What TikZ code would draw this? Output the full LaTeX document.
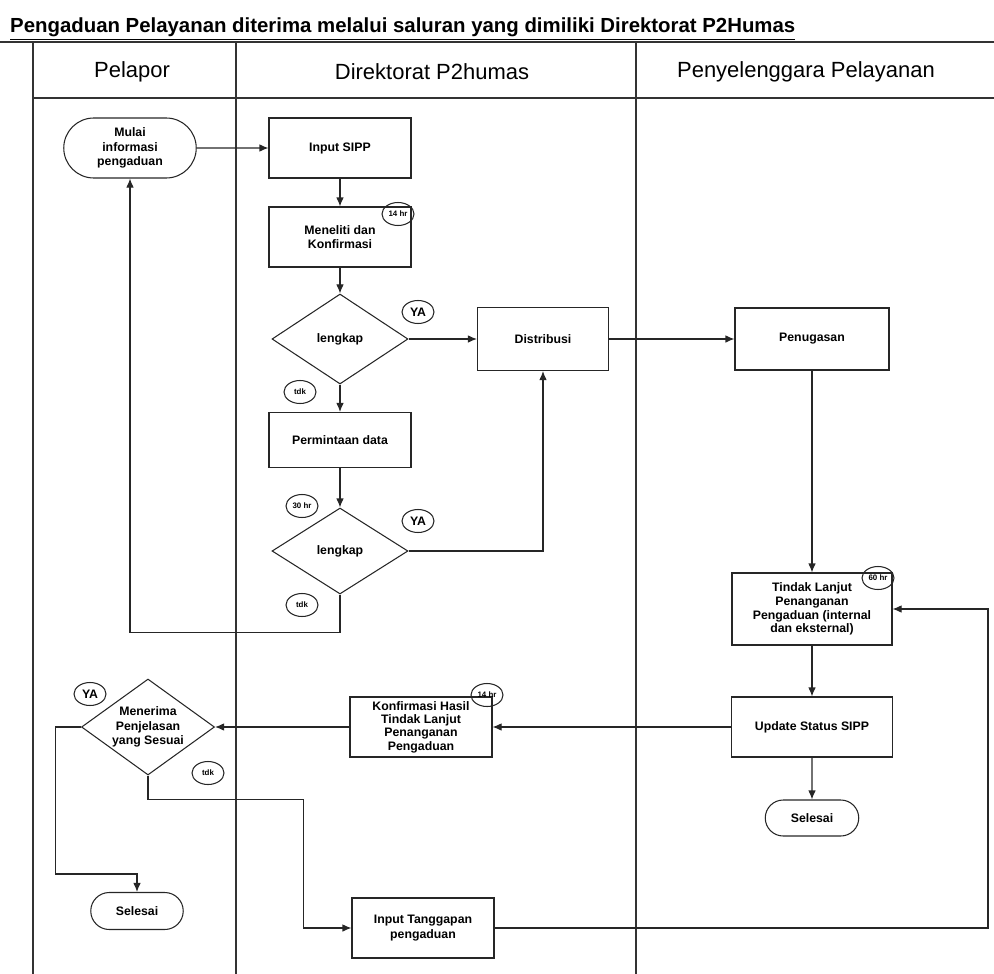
\documentclass[tikz,border=0pt]{standalone}
\usepackage{fontspec}
\setmainfont{Liberation Sans}
\usetikzlibrary{shapes, arrows.meta, positioning, calc}

\begin{document}
\begin{tikzpicture}[x=0.2mm, y=-0.2mm,
  font=\fontsize{7}{8.4}\selectfont\bfseries,
  lane/.style={draw=black!80, line width=0.7pt},
  box/.style={draw=black!85, line width=0.6pt, minimum width=28.4mm, minimum height=12mm, align=center, inner sep=1pt},
  terminal/.style={draw=black!85, line width=0.6pt, rounded rectangle, minimum width=27.2mm, minimum height=12mm, align=center, inner sep=1pt},
  decision/.style={draw=black!85, line width=0.6pt, diamond, aspect=1.5, minimum width=27.2mm, minimum height=18mm, align=center, inner sep=0pt},
  badge/.style={draw=black!85, line width=0.6pt, ellipse, minimum width=6.4mm, minimum height=4.6mm, inner sep=0pt, font=\fontsize{4.5}{5}\selectfont\bfseries},
  flow/.style={draw=black!85, line width=0.6pt, -{Latex[length=1.8mm, width=1.5mm]}}
]
\useasboundingbox (0,0) rectangle (994,974);

% title and swimlanes
\node[anchor=west, font=\fontsize{11.6}{13}\selectfont\bfseries] (judul) at (4,29)
  {\underline{Pengaduan Pelayanan diterima melalui saluran yang dimiliki Direktorat P2Humas}};
\draw[lane] (0,42) -- (994,42);
\draw[lane] (33,98) -- (994,98);
\draw[lane] (33,42) -- (33,974);
\draw[lane] (236,42) -- (236,974);
\draw[lane] (636,42) -- (636,974);
\node[font=\fontsize{12.5}{14}\selectfont\mdseries] (pelapor) at (132,72) {Pelapor};
\node[font=\fontsize{12.5}{14}\selectfont\mdseries] (direktorat) at (432,72) {Direktorat P2humas};
\node[font=\fontsize{12.5}{14}\selectfont\mdseries] (penyelenggara) at (806,72) {Penyelenggara Pelayanan};

% Pelapor
\node[terminal] (mulai) at (130,148) {Mulai\\informasi\\pengaduan};
\node[decision, minimum width=26.6mm, minimum height=19.2mm, aspect=1.4] (cek3) at (148,727) {Menerima\\Penjelasan\\yang Sesuai};
\node[terminal, minimum width=19.2mm, minimum height=7.4mm] (selesai1) at (137,911) {Selesai};

% Direktorat P2humas
\node[box] (input) at (340,148) {Input SIPP};
\node[box] (teliti) at (340,237) {Meneliti dan\\Konfirmasi};
\node[decision] (cek1) at (340,339) {lengkap};
\node[box] (distribusi) at (543,339) [minimum width=26.2mm, minimum height=12.6mm] {Distribusi};
\node[box, minimum height=11mm] (minta) at (340,440) {Permintaan data};
\node[decision, minimum height=17.2mm] (cek2) at (340,551) {lengkap};
\node[box, font=\fontsize{7}{7.6}\selectfont\bfseries] (konfirmasi) at (421,727) {Konfirmasi Hasil\\Tindak Lanjut\\Penanganan\\Pengaduan};
\node[box] (tanggap) at (423,928) {Input Tanggapan\\pengaduan};

% Penyelenggara Pelayanan
\node[box, minimum width=30.8mm, minimum height=12.4mm] (tugas) at (812,339) {Penugasan};
\node[box, minimum width=32mm, minimum height=14.4mm, font=\fontsize{7}{7.8}\selectfont\bfseries] (tindak) at (812,609) {Tindak Lanjut\\Penanganan\\Pengaduan (internal\\dan eksternal)};
\node[box, minimum width=32.2mm] (update) at (812,727) {Update Status SIPP};
\node[terminal, minimum width=19.4mm, minimum height=7.2mm] (selesai2) at (812,818) {Selesai};

% badges
\node[badge] (b1) at (398,214) {14 hr};
\node[badge, font=\fontsize{7}{8}\selectfont\bfseries] (b2) at (418,312) {YA};
\node[badge] (b3) at (300,392) {tdk};
\node[badge] (b4) at (302,506) {30 hr};
\node[badge, font=\fontsize{7}{8}\selectfont\bfseries] (b5) at (418,521) {YA};
\node[badge] (b6) at (302,605) {tdk};
\node[badge] (b7) at (878,578) {60 hr};
\node[badge] (b8) at (487,695) {14 hr};
\node[badge, font=\fontsize{7}{8}\selectfont\bfseries] (b9) at (90,694) {YA};
\node[badge] (b10) at (208,773) {tdk};

% connectors
\draw[flow] (mulai) -- (input);
\draw[flow] (input) -- (teliti);
\draw[flow] (teliti) -- (cek1);
\draw[flow] (cek1) -- (distribusi);
\draw[flow] (distribusi) -- (tugas);
\draw[flow] (cek1) -- (minta);
\draw[flow] (minta) -- (cek2);
\draw[flow] (cek2.east) -| (distribusi.south);
\draw[flow] (cek2.south) -- ++(0,38) -| (mulai.south);
\draw[flow] (tugas) -- (tindak);
\draw[flow] (tindak) -- (update);
\draw[flow] (update) -- (selesai2);
\draw[flow] (update) -- (konfirmasi);
\draw[flow] (konfirmasi) -- (cek3);
\draw[flow] (cek3.west) -- ++(-25,0) -- ++(0,147) -| (selesai1.north);
\draw[flow] (cek3.south) -- ++(0,24) -| ($(tanggap.west)+(-48,0)$) -- (tanggap.west);
\draw[flow] (tanggap.east) -- (988,928) |- (tindak.east);
\end{tikzpicture}
\end{document}
